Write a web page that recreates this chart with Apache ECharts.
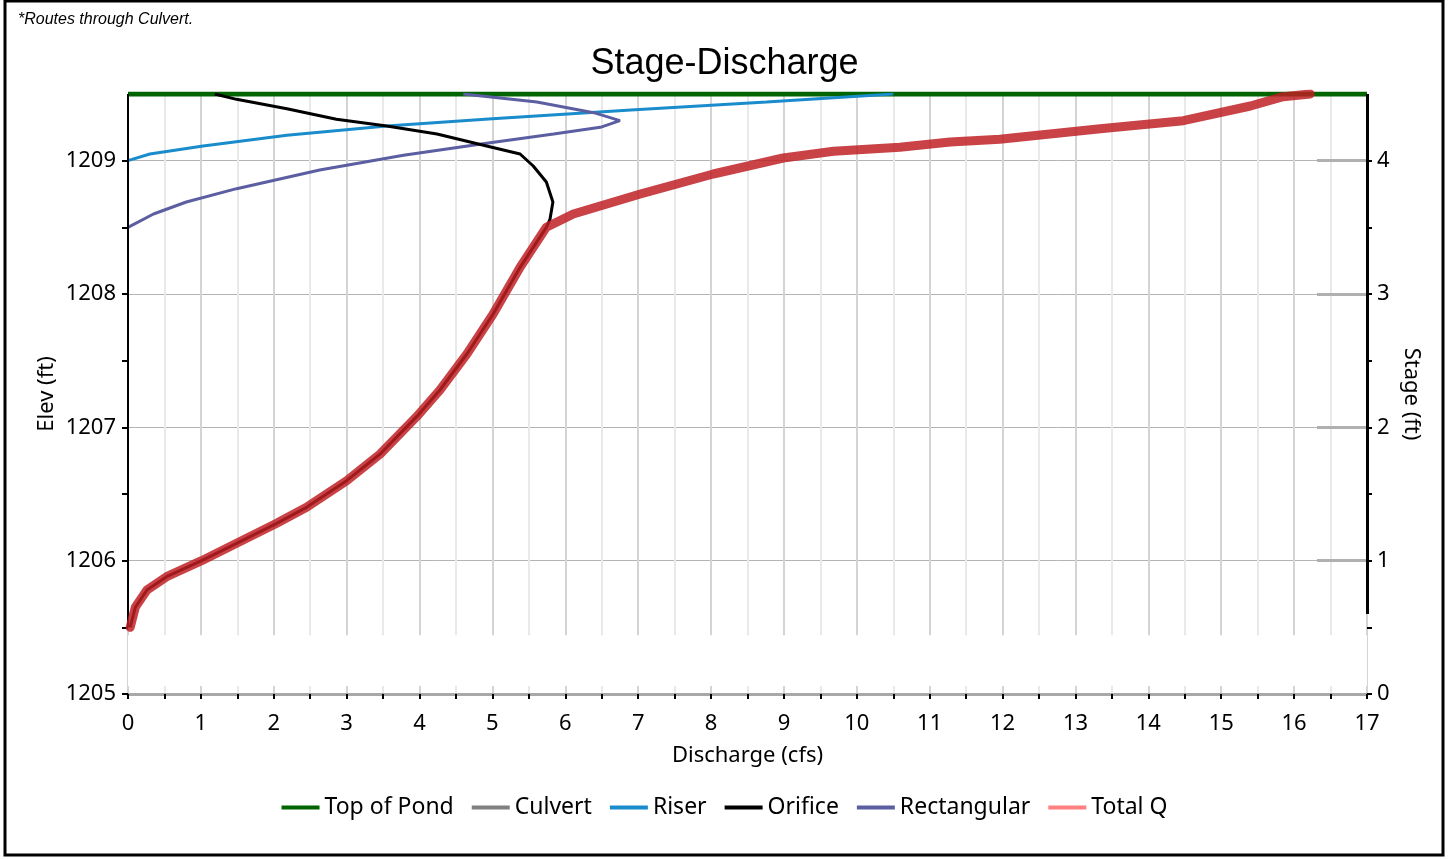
<!DOCTYPE html>
<html><head><meta charset="utf-8">
<script src="https://cdn.jsdelivr.net/npm/echarts@6/dist/echarts.min.js"></script>
<style>html,body{margin:0;padding:0;background:#fff}#c{width:1449px;height:859px}</style>
</head><body><div id="c"></div>
<script>
// ---- data (discharge in cfs, elevation in ft) ----
const topOfPondQ = [0, 17];
const topOfPondElev = [1209.5, 1209.5];
const culvertQ = [];
const culvertElev = [];
const riserQ = [0, 0.3, 1.03, 2.18, 3.55, 5.0, 6.9, 8.76, 10.5];
const riserElev = [1209, 1209.05, 1209.11, 1209.19, 1209.26, 1209.315, 1209.38, 1209.44, 1209.5];
const orificeQ = [0.03, 0.1, 0.26, 0.53, 1.01, 1.49, 2.04, 2.45, 3.0, 3.46, 3.96, 4.28, 4.65, 5.01, 5.38, 5.74, 5.79, 5.83, 5.74, 5.56, 5.38, 4.92, 4.24, 3.55, 2.86, 2.18, 1.49, 1.19];
const orificeElev = [1205.5, 1205.65, 1205.78, 1205.88, 1206.0, 1206.13, 1206.28, 1206.4, 1206.6, 1206.8, 1207.08, 1207.28, 1207.55, 1207.85, 1208.2, 1208.5, 1208.56, 1208.69, 1208.84, 1208.96, 1209.05, 1209.11, 1209.2, 1209.26, 1209.31, 1209.39, 1209.46, 1209.5];
const rectQ = [0, 0.35, 0.8, 1.49, 2.63, 3.78, 4.92, 5.84, 6.48, 6.75, 6.39, 5.61, 4.6];
const rectElev = [1208.5, 1208.6, 1208.69, 1208.79, 1208.93, 1209.04, 1209.13, 1209.2, 1209.25, 1209.3, 1209.36, 1209.44, 1209.5];
const totalQ = [0.03, 0.1, 0.26, 0.53, 1.01, 1.49, 2.04, 2.45, 3.0, 3.46, 3.96, 4.28, 4.65, 5.01, 5.38, 5.74, 6.11, 7.03, 8.03, 8.99, 9.68, 10.59, 11.28, 11.96, 13.34, 14.48, 15.4, 15.85, 16.22];
const totalElev = [1205.5, 1205.65, 1205.78, 1205.88, 1206.0, 1206.13, 1206.28, 1206.4, 1206.6, 1206.8, 1207.08, 1207.28, 1207.55, 1207.85, 1208.2, 1208.5, 1208.6, 1208.75, 1208.9, 1209.02, 1209.07, 1209.1, 1209.14, 1209.16, 1209.24, 1209.3, 1209.41, 1209.48, 1209.5];
// axis ranges and ticks
const qMin = 0, qMax = 17;
const elevMin = 1205, elevMax = 1209.5, elevBreak = 1205.5;
const stageMin = 0, stageMax = 4.5, stageAxisEnd = 0.6;
const elevTicks = [1205, 1205.5, 1206, 1206.5, 1207, 1207.5, 1208, 1208.5, 1209];
const elevLabels = [1205, 1206, 1207, 1208, 1209];
const stageTicks = [0, 0.5, 1, 1.5, 2, 2.5, 3, 3.5, 4];
const stageLabels = [0, 1, 2, 3, 4];
const stageGrayTicks = [1, 2, 3, 4];

const pairs = (xs, ys) => xs.map((x, i) => [x, ys[i]]);
const intLabel = v => (Number.isInteger(v) ? String(v) : '');
const FONT = 'Noto Sans';
const chart = echarts.init(document.getElementById('c'));
chart.setOption({
  animation: false,
  backgroundColor: '#fff',
  title: {text: 'Stage-Discharge', left: 'center', top: 41,
    textStyle: {fontFamily: 'Liberation Sans', fontSize: 36, fontWeight: 'normal', color: '#000'}},
  graphic: [
    {type: 'rect', shape: {x: 5, y: 1, width: 1438, height: 854}, style: {fill: 'none', stroke: '#000', lineWidth: 3}, silent: true},
    {type: 'text', left: 18, top: 12, style: {text: '*Routes through Culvert.', font: 'italic 16px "Liberation Sans"', fill: '#000'}}
  ],
  legend: {
    top: 791, left: 'center', icon: 'rect', itemWidth: 38, itemHeight: 4, itemGap: 18,
    textStyle: {fontFamily: FONT, fontSize: 23, color: '#000'},
    data: [
      {name: 'Top of Pond', itemStyle: {color: '#006400'}},
      {name: 'Culvert', itemStyle: {color: '#808080'}},
      {name: 'Riser', itemStyle: {color: '#1a8ccc'}},
      {name: 'Orifice', itemStyle: {color: '#000'}},
      {name: 'Rectangular', itemStyle: {color: '#5b5ea0'}},
      {name: 'Total Q', itemStyle: {color: '#ff8080'}}
    ]
  },
  grid: {left: 128, right: 82, top: 94, bottom: 165},
  xAxis: {
    type: 'value', min: qMin, max: qMax, interval: 1,
    name: 'Discharge (cfs)', nameLocation: 'middle', nameGap: 51, nameMoveOverlap: false,
    nameTextStyle: {fontFamily: FONT, fontSize: 22, color: '#000'},
    axisLine: {show: true, lineStyle: {color: '#a8a8a8', width: 3}},
    axisTick: {show: true, length: 5, lineStyle: {color: '#000', width: 2}},
    minorTick: {show: true, splitNumber: 2, length: 5, lineStyle: {color: '#000', width: 2}},
    axisLabel: {fontFamily: FONT, fontSize: 22, color: '#000', margin: 19},
    splitLine: {show: true, lineStyle: {color: '#d4d4d4', width: 2}},
    minorSplitLine: {show: true, lineStyle: {color: '#e9e9e9', width: 2}}
  },
  yAxis: [
    {
      // elevation scale: horizontal grid lines + axis name
      type: 'value', min: elevMin, max: elevMax, interval: 1, position: 'left',
      name: 'Elev (ft)', nameLocation: 'middle', nameGap: 70, nameMoveOverlap: false,
      nameTextStyle: {fontFamily: FONT, fontSize: 22, color: '#000'},
      axisLine: {show: false}, axisTick: {show: false}, axisLabel: {show: false},
      splitLine: {show: true, lineStyle: {color: '#b4b4b4', width: 1}}
    },
    {
      type: 'value', min: stageMin, max: stageMax, interval: 1, position: 'right',
      name: 'Stage (ft)', nameLocation: 'middle', nameGap: 33, nameRotate: -90, nameMoveOverlap: false,
      nameTextStyle: {fontFamily: FONT, fontSize: 22, color: '#000'},
      axisLine: {show: false},
      axisTick: {show: true, length: 5, customValues: stageTicks, lineStyle: {color: '#000', width: 2}},
      axisLabel: {fontFamily: FONT, fontSize: 22, color: '#000', margin: 10, customValues: stageLabels, formatter: intLabel},
      splitLine: {show: false}
    },
    {
      type: 'value', min: stageMin, max: stageMax, interval: 1, position: 'right',
      axisLine: {show: false},
      axisTick: {show: true, inside: true, length: 50, customValues: stageGrayTicks, lineStyle: {color: '#b0b0b0', width: 3}},
      axisLabel: {show: false}, splitLine: {show: false}
    },
    {
      // elevation ticks and labels
      type: 'value', min: elevMin, max: elevMax, interval: 1, position: 'left',
      axisLine: {show: false},
      axisTick: {show: true, length: 6, customValues: elevTicks, lineStyle: {color: '#000', width: 2}},
      axisLabel: {fontFamily: FONT, fontSize: 22, color: '#000', margin: 12, customValues: elevLabels, formatter: intLabel},
      splitLine: {show: false}
    }
  ],
  series: [
    {
      name: 'Top of Pond', type: 'line', data: pairs(topOfPondQ, topOfPondElev),
      showSymbol: false, lineStyle: {color: '#006400', width: 5}, itemStyle: {color: '#006400'}, z: 2,
      markArea: {silent: true, itemStyle: {color: '#ffffff'},
        data: [[{coord: [qMin, elevMin + 0.06]}, {coord: [qMax, elevBreak - 0.06]}]]},
      markLine: {silent: true, symbol: 'none', label: {show: false}, animation: false,
        data: [
          [{coord: [qMin, elevBreak], lineStyle: {color: '#000', width: 2, type: 'solid'}}, {coord: [qMin, elevMax]}],
          [{coord: [qMax, elevMin + stageAxisEnd], lineStyle: {color: '#000', width: 3, type: 'solid'}}, {coord: [qMax, elevMax]}]
        ]}
    },
    {name: 'Culvert', type: 'line', data: pairs(culvertQ, culvertElev), showSymbol: false,
      lineStyle: {color: '#808080', width: 3}, itemStyle: {color: '#808080'}},
    {name: 'Riser', type: 'line', data: pairs(riserQ, riserElev), showSymbol: false,
      lineStyle: {color: '#1a8ccc', width: 3}, itemStyle: {color: '#1a8ccc'}, z: 3},
    {name: 'Rectangular', type: 'line', data: pairs(rectQ, rectElev), showSymbol: false,
      lineStyle: {color: '#5b5ea0', width: 3}, itemStyle: {color: '#5b5ea0'}, z: 3},
    {name: 'Orifice', type: 'line', data: pairs(orificeQ, orificeElev), showSymbol: false,
      lineStyle: {color: '#000', width: 3, join: 'round'}, itemStyle: {color: '#000'}, z: 4},
    {name: 'Total Q', type: 'line', data: pairs(totalQ, totalElev), showSymbol: false,
      lineStyle: {color: 'rgba(190,30,35,0.84)', width: 9, join: 'round', cap: 'round'}, itemStyle: {color: '#ff8080'}, z: 5}
  ]
});
</script></body></html>
